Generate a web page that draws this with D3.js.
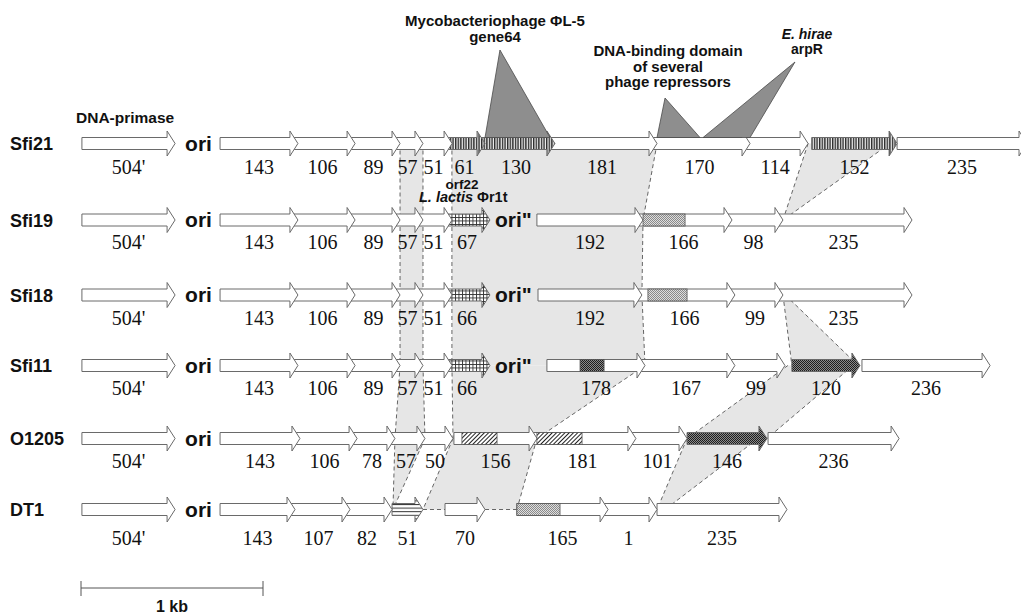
<!DOCTYPE html>
<html>
<head>
<meta charset="utf-8">
<script src="https://cdn.jsdelivr.net/npm/d3@7"></script>
<style>
  body { margin: 0; background: #fff; }
  svg { display: block; }
  .num { font-family: "Liberation Serif", "Times New Roman", serif; font-size: 20px; fill: #111; }
  .bold { font-family: "Liberation Sans", Arial, sans-serif; font-weight: bold; fill: #111; }
</style>
</head>
<body>
<div id="map"></div>
<script>
// strains, top to bottom
var rows = ["Sfi21", "Sfi19", "Sfi18", "Sfi11", "O1205", "DT1"];

// genes in bp: [label, start, head base, motif, motif box start, motif box end]
var primase = ["504'", 5, 473];
var sharedGenes = [["143", 764, 1148], ["106", 1148, 1462], ["89", 1462, 1709], ["57", 1709, 1835], ["51", 1835, 1995]];

var sfi21Genes = sharedGenes.concat([
  ["61", 1995, 2176, "vhatch"], ["130", 2176, 2560, "vhatch"], ["181", 2560, 3121],
  ["170", 3121, 3632], ["114", 3632, 3951], ["152", 4015, 4440, "vhatch"], ["235", 4484, 5154]
]);
var sfi19Genes = sharedGenes.concat([
  ["67", 1995, 2203, "cross"], ["192", 2505, 3044], ["166", 3044, 3533, "lstip", 3088, 3319],
  ["98", 3533, 3813], ["235", 3813, 4522]
]);
var sfi18Genes = sharedGenes.concat([
  ["66", 1995, 2203, "cross"], ["192", 2511, 3038], ["166", 3038, 3549, "lstip", 3115, 3330],
  ["99", 3549, 3813], ["235", 3813, 4522]
]);
var sfi11Genes = sharedGenes.concat([
  ["66", 1995, 2203, "cross"], ["178", 2560, 3055, "dstip", 2742, 2874], ["167", 3055, 3549],
  ["99", 3549, 3824], ["120", 3906, 4236, "dstip"], ["236", 4291, 4951]
]);
var o1205Genes = [
  ["143", 764, 1159], ["106", 1159, 1473], ["78", 1473, 1681], ["57", 1681, 1846], ["50", 1846, 2000],
  ["156", 2049, 2462, "diag", 2093, 2286], ["181", 2462, 3005, "diag", 2505, 2753], ["101", 3005, 3286],
  ["146", 3330, 3725, "dstip"], ["236", 3775, 4451]
];
var dt1Genes = [
  ["143", 764, 1132], ["107", 1132, 1434], ["82", 1434, 1665], ["51", 1709, 1835, "hstripe"],
  ["70", 2000, 2176], ["165", 2395, 2852, "lstip", 2395, 2632], ["1", 2852, 3121], ["235", 3165, 3835]
];
var genesByRow = [sfi21Genes, sfi19Genes, sfi18Genes, sfi11Genes, o1205Genes, dt1Genes];

// second origin after the cross hatched orf
var oriTwoRows = [1, 2, 3];
// deletions drawn as a dashed backbone in DT1
var dt1Gaps = [[1879, 2000], [2220, 2395]];

// homology between neighbouring rows: [upper row, a, b, c, d]
var links = [
  [0, 1753, 1879, 1753, 1879], [1, 1753, 1879, 1753, 1879], [2, 1753, 1879, 1753, 1879],
  [3, 1753, 1879, 1725, 1890], [4, 1725, 1890, 1714, 1714],
  [0, 2038, 3165, 2038, 3088], [1, 2038, 3088, 2038, 3082], [2, 2038, 3082, 2038, 3099],
  [3, 2038, 3099, 2044, 2505], [4, 2044, 2505, 1879, 2395],
  [0, 3995, 4445, 3857, 3857], [2, 3857, 3870, 3906, 4270],
  [3, 3884, 4242, 3330, 3769], [4, 3330, 3720, 3165, 3209]
];

// similarity notes above Sfi21
var noteText = [["Mycobacteriophage \u03A6L-5", "gene64"], ["DNA-binding domain", "of several", "phage repressors"], ["E. hirae", "arpR"]];
var noteBase = [[2220, 2577], [3165, 3401], [3418, 3676]];
var noteApex = [2302, 3209, 3923];

var scaleBarBp = 1000;

// layout
var rowY = [143.5, 220, 295, 365.5, 438.5, 509.5];
var labelDy = [30.5, 28.5, 30, 29.5, 29.5, 35];
var apexY = [50, 98, 62];
var noteX = [495, 668, 807];
var noteY = [[26, 42], [56, 72, 87], [39, 54]];
var h = 6, H = 12.5, L = 8;

var width = 1021, height = 614;
var x = d3.scaleLinear().domain([0, scaleBarBp]).range([81, 263]);

var svg = d3.select("#map").append("svg")
  .attr("width", width)
  .attr("height", height);

var defs = svg.append("defs");

function addPattern(id, w, ht, bg, draw, rot) {
  var p = defs.append("pattern").attr("id", id)
    .attr("patternUnits", "userSpaceOnUse")
    .attr("width", w).attr("height", ht);
  if (rot) p.attr("patternTransform", "rotate(" + rot + ")");
  p.append("rect").attr("width", w).attr("height", ht).attr("fill", bg);
  draw(p);
}
addPattern("vhatch", 2.6, 4, "#f4f4f4", function(p) {
  p.append("rect").attr("x", 0).attr("width", 1.4).attr("height", 4).attr("fill", "#2a2a2a");
});
addPattern("cross", 3.5, 3.5, "#fff", function(p) {
  p.append("rect").attr("width", 3.5).attr("height", 0.9).attr("fill", "#333");
  p.append("rect").attr("width", 0.9).attr("height", 3.5).attr("fill", "#333");
});
addPattern("lstip", 2, 2, "#dedede", function(p) {
  p.append("rect").attr("width", 1).attr("height", 1).attr("fill", "#8a8a8a");
  p.append("rect").attr("x", 1).attr("y", 1).attr("width", 1).attr("height", 1).attr("fill", "#8a8a8a");
});
addPattern("dstip", 2, 2, "#8a8a8a", function(p) {
  p.append("rect").attr("width", 1).attr("height", 1).attr("fill", "#1e1e1e");
  p.append("rect").attr("x", 1).attr("y", 1).attr("width", 1).attr("height", 1).attr("fill", "#1e1e1e");
});
addPattern("diag", 3, 3, "#fff", function(p) {
  p.append("rect").attr("width", 1).attr("height", 3).attr("fill", "#222");
}, 45);
addPattern("hstripe", 4, 3.6, "#fff", function(p) {
  p.append("rect").attr("width", 4).attr("height", 1).attr("fill", "#333");
});

// shaded homology regions
var linkG = svg.append("g");
linkG.selectAll("path.area")
  .data(links)
  .enter().append("path")
  .attr("class", "area")
  .attr("d", function(d) {
    var y0 = rowY[d[0]], y1 = rowY[d[0] + 1];
    return "M" + x(d[1]) + "," + y0 + "L" + x(d[2]) + "," + y0 +
      "L" + x(d[4]) + "," + y1 + "L" + x(d[3]) + "," + y1 + "Z";
  })
  .attr("fill", "#e6e6e6");

var edges = [];
links.forEach(function(d) {
  edges.push([d[0], d[1], d[3]]);
  edges.push([d[0], d[2], d[4]]);
});
linkG.selectAll("line")
  .data(edges)
  .enter().append("line")
  .attr("x1", function(d) { return x(d[1]); })
  .attr("y1", function(d) { return rowY[d[0]]; })
  .attr("x2", function(d) { return x(d[2]); })
  .attr("y2", function(d) { return rowY[d[0] + 1]; })
  .attr("stroke", "#555")
  .attr("stroke-width", 0.9)
  .attr("stroke-dasharray", "4,3");

// DT1 gaps
svg.append("g").selectAll("line")
  .data(dt1Gaps)
  .enter().append("line")
  .attr("x1", function(d) { return x(d[0]); })
  .attr("x2", function(d) { return x(d[1]); })
  .attr("y1", rowY[5]).attr("y2", rowY[5])
  .attr("stroke", "#555")
  .attr("stroke-width", 0.9)
  .attr("stroke-dasharray", "4,3");

function arrowPath(x0, x1, y) {
  return "M" + x0 + "," + (y - h) + "H" + x1 + "V" + (y - H) + "L" + (x1 + L) + "," + y +
    "L" + x1 + "," + (y + H) + "V" + (y + h) + "H" + x0 + "Z";
}

// gene rows
rows.forEach(function(name, i) {
  var y = rowY[i];
  var g = svg.append("g").attr("class", "row");
  var genes = [primase].concat(genesByRow[i]);

  g.append("text").attr("class", "bold")
    .attr("x", 10).attr("y", y + 6.5)
    .style("font-size", "18px")
    .text(name);

  g.selectAll("path.gene")
    .data(genes.slice().reverse())
    .enter().append("path")
    .attr("class", "gene")
    .attr("d", function(d) { return arrowPath(x(d[1]), x(d[2]), y); })
    .attr("fill", function(d) { return (d[3] && d[4] === undefined) ? "url(#" + d[3] + ")" : "#fff"; })
    .attr("stroke", "#6a6a6a")
    .attr("stroke-width", 1);

  g.selectAll("rect.box")
    .data(genes.filter(function(d) { return d[4] !== undefined; }))
    .enter().append("rect")
    .attr("class", "box")
    .attr("x", function(d) { return x(d[4]); })
    .attr("width", function(d) { return x(d[5]) - x(d[4]); })
    .attr("y", y - h).attr("height", 2 * h)
    .attr("fill", function(d) { return "url(#" + d[3] + ")"; })
    .attr("stroke", "#555")
    .attr("stroke-width", 0.8);

  g.selectAll("text.num")
    .data(genes)
    .enter().append("text")
    .attr("class", "num")
    .attr("text-anchor", "middle")
    .attr("x", function(d) { return (x(d[1]) + x(d[2]) + L) / 2; })
    .attr("y", y + labelDy[i])
    .text(function(d) { return d[0]; });

  g.append("text").attr("class", "bold")
    .attr("x", x(primase[2]) + L + 10).attr("y", y + 7)
    .style("font-size", "21px")
    .text("ori");

  if (oriTwoRows.indexOf(i) >= 0) {
    var orf = genesByRow[i].filter(function(d) { return d[3] === "cross"; })[0];
    g.append("text").attr("class", "bold")
      .attr("x", x(orf[2]) + L + 5).attr("y", y + 7)
      .style("font-size", "21px")
      .text("ori\"");
  }
});

// similarity triangles and notes
var noteG = svg.append("g");
noteG.selectAll("path")
  .data(noteBase)
  .enter().append("path")
  .attr("d", function(d, i) {
    var yb = rowY[0] - h;
    return "M" + x(d[0]) + "," + yb + "L" + x(noteApex[i]) + "," + apexY[i] + "L" + x(d[1]) + "," + yb + "Z";
  })
  .attr("fill", "#8e8e8e")
  .attr("stroke", "#4a4a4a")
  .attr("stroke-width", 0.8);

noteText.forEach(function(lines, i) {
  lines.forEach(function(t, j) {
    var txt = noteG.append("text").attr("class", "bold")
      .attr("x", noteX[i]).attr("y", noteY[i][j])
      .attr("text-anchor", "middle")
      .style("font-size", i === 2 ? "14px" : "15px")
      .text(t);
    if (t === "E. hirae") txt.style("font-style", "italic");
  });
});

svg.append("text").attr("class", "bold")
  .attr("x", 76).attr("y", 123)
  .style("font-size", "15.5px")
  .text("DNA-primase");

svg.append("text").attr("class", "bold")
  .attr("x", 462).attr("y", 188.5)
  .attr("text-anchor", "middle")
  .style("font-size", "13.5px")
  .text("orf22");

var lac = svg.append("text").attr("class", "bold")
  .attr("x", 419).attr("y", 202)
  .style("font-size", "14.5px");
lac.append("tspan").style("font-style", "italic").text("L. lactis ");
lac.append("tspan").text("\u03A6r1t");

// scale bar
var bar = svg.append("g").attr("transform", "translate(0,588)");
bar.append("line")
  .attr("x1", x(0)).attr("x2", x(scaleBarBp))
  .attr("stroke", "#555").attr("stroke-width", 1);
bar.selectAll("line.tick")
  .data([0, scaleBarBp])
  .enter().append("line")
  .attr("class", "tick")
  .attr("x1", function(d) { return x(d); })
  .attr("x2", function(d) { return x(d); })
  .attr("y1", -7).attr("y2", 8)
  .attr("stroke", "#555").attr("stroke-width", 1);
bar.append("text").attr("class", "bold")
  .attr("x", (x(0) + x(scaleBarBp)) / 2).attr("y", 24)
  .attr("text-anchor", "middle")
  .style("font-size", "16px")
  .text("1 kb");
</script>
</body>
</html>
